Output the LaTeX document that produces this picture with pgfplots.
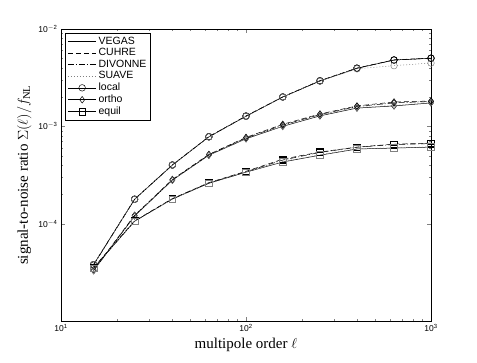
\documentclass[border=0pt]{standalone}
\usepackage{fontspec}
\setmainfont{Liberation Serif}
\setsansfont{Liberation Sans}
\usepackage{pgfplots}
\usepackage{pgfplotstable}
\pgfplotsset{compat=1.18}

% columns: multipole order, then VEGAS, CUHRE, DIVONNE, SUAVE
\pgfplotstableread{
l     vegas    cuhre    divonne  suave
15    3.8e-5   3.8e-5   3.75e-5  3.8e-5
25    1.78e-4  1.79e-4  1.78e-4  1.78e-4
40    4.0e-4   4.02e-4  4.0e-4   4.0e-4
63    7.8e-4   7.85e-4  7.8e-4   7.8e-4
100   1.27e-3  1.28e-3  1.27e-3  1.27e-3
158   2.0e-3   2.01e-3  2.0e-3   2.0e-3
251   2.92e-3  2.95e-3  2.93e-3  2.92e-3
398   3.95e-3  3.97e-3  3.95e-3  3.9e-3
631   4.8e-3   4.82e-3  4.8e-3   4.2e-3
1000  5.0e-3   5.03e-3  5.0e-3   4.47e-3
}\localtab

\pgfplotstableread{
l     vegas    cuhre    divonne  suave
15    3.3e-5   3.35e-5  3.3e-5   3.3e-5
25    1.2e-4   1.22e-4  1.21e-4  1.2e-4
40    2.8e-4   2.85e-4  2.82e-4  2.8e-4
63    5.05e-4  5.15e-4  5.1e-4   5.05e-4
100   7.45e-4  7.7e-4   7.6e-4   7.45e-4
158   1.0e-3   1.05e-3  1.03e-3  1.0e-3
251   1.28e-3  1.34e-3  1.32e-3  1.3e-3
398   1.54e-3  1.62e-3  1.6e-3   1.56e-3
631   1.62e-3  1.78e-3  1.74e-3  1.64e-3
1000  1.74e-3  1.82e-3  1.8e-3   1.75e-3
}\orthotab

\pgfplotstableread{
l     vegas    cuhre    divonne  suave
15    3.5e-5   3.55e-5  3.5e-5   3.5e-5
25    1.06e-4  1.07e-4  1.06e-4  1.06e-4
40    1.79e-4  1.81e-4  1.8e-4   1.79e-4
63    2.6e-4   2.64e-4  2.62e-4  2.6e-4
100   3.38e-4  3.45e-4  3.42e-4  3.38e-4
158   4.3e-4   4.6e-4   4.5e-4   4.35e-4
251   5.05e-4  5.45e-4  5.4e-4   5.1e-4
398   5.85e-4  6.12e-4  6.1e-4   5.9e-4
631   5.98e-4  6.57e-4  6.5e-4   6.0e-4
1000  6.12e-4  6.73e-4  6.65e-4  6.15e-4
}\equiltab

\tikzset{
    cuhreline/.style={dash pattern=on 5pt off 3pt},
    divonneline/.style={dash pattern=on 6pt off 2pt on 1pt off 2pt},
    suaveline/.style={dash pattern=on 1pt off 2pt, gray},
}

\begin{document}
\begin{tikzpicture}
\begin{axis}[
    name=ax,
    scale only axis,
    width=370pt, height=292pt,
    xmode=log, ymode=log,
    xmin=10, xmax=1000,
    ymin=1e-5, ymax=1e-2,
    xtick={10,100,1000},
    xticklabels={10\textsuperscript{1},10\textsuperscript{2},10\textsuperscript{3}},
    ytick={1e-4,1e-3,1e-2},
    yticklabels={10\textsuperscript{$-$4},10\textsuperscript{$-$3},10\textsuperscript{$-$2}},
    ticklabel style={font=\sffamily\fontsize{8.5}{9}\selectfont},
    tick align=inside,
    major tick length=4pt, minor tick length=2pt,
    axis line style={line width=0.6pt},
    xlabel={multipole order $\ell$},
    ylabel={signal-to-noise ratio $\Sigma(\ell)/f_{\mathrm{NL}}$},
    label style={font=\fontsize{15}{17}\selectfont},
    every axis plot/.append style={black, line width=0.5pt, mark size=3.3pt},
    legend image code/.code={%
        \draw[mark repeat=2,mark phase=2,#1]
        plot coordinates {(0cm,0cm) (0.5cm,0cm) (1cm,0cm)};},
    legend style={at={(0.012,0.988)}, anchor=north west, draw=black,
        line width=0.5pt, font=\sffamily\fontsize{10.5}{11}\selectfont,
        row sep=-1.2pt, inner sep=2pt},
    legend cell align=left,
]
\addlegendimage{solid}
\addlegendentry{VEGAS}
\addlegendimage{cuhreline}
\addlegendentry{CUHRE}
\addlegendimage{divonneline}
\addlegendentry{DIVONNE}
\addlegendimage{suaveline}
\addlegendentry{SUAVE}
\addlegendimage{solid, mark=o}
\addlegendentry{local}
\addlegendimage{solid, mark=diamond}
\addlegendentry{ortho}
\addlegendimage{solid, mark=square}
\addlegendentry{equil}

% local
\addplot[forget plot, solid, mark=o] table[x=l, y=vegas] {\localtab};
\addplot[forget plot, cuhreline, mark=o, mark options={solid}] table[x=l, y=cuhre] {\localtab};
\addplot[forget plot, divonneline, mark=o, mark options={solid}] table[x=l, y=divonne] {\localtab};
\addplot[forget plot, suaveline, mark=o, mark options={solid}] table[x=l, y=suave] {\localtab};
% ortho
\addplot[forget plot, solid, mark=diamond] table[x=l, y=vegas] {\orthotab};
\addplot[forget plot, cuhreline, mark=diamond, mark options={solid}] table[x=l, y=cuhre] {\orthotab};
\addplot[forget plot, divonneline, mark=diamond, mark options={solid}] table[x=l, y=divonne] {\orthotab};
\addplot[forget plot, suaveline, mark=diamond, mark options={solid}] table[x=l, y=suave] {\orthotab};
% equil
\addplot[forget plot, solid, mark=square] table[x=l, y=vegas] {\equiltab};
\addplot[forget plot, cuhreline, mark=square, mark options={solid}] table[x=l, y=cuhre] {\equiltab};
\addplot[forget plot, divonneline, mark=square, mark options={solid}] table[x=l, y=divonne] {\equiltab};
\addplot[forget plot, suaveline, mark=square, mark options={solid}] table[x=l, y=suave] {\equiltab};
\end{axis}
\path ([shift={(-61pt,-42pt)}]ax.south west) rectangle ([shift={(46pt,29pt)}]ax.north east);
\end{tikzpicture}
\end{document}
